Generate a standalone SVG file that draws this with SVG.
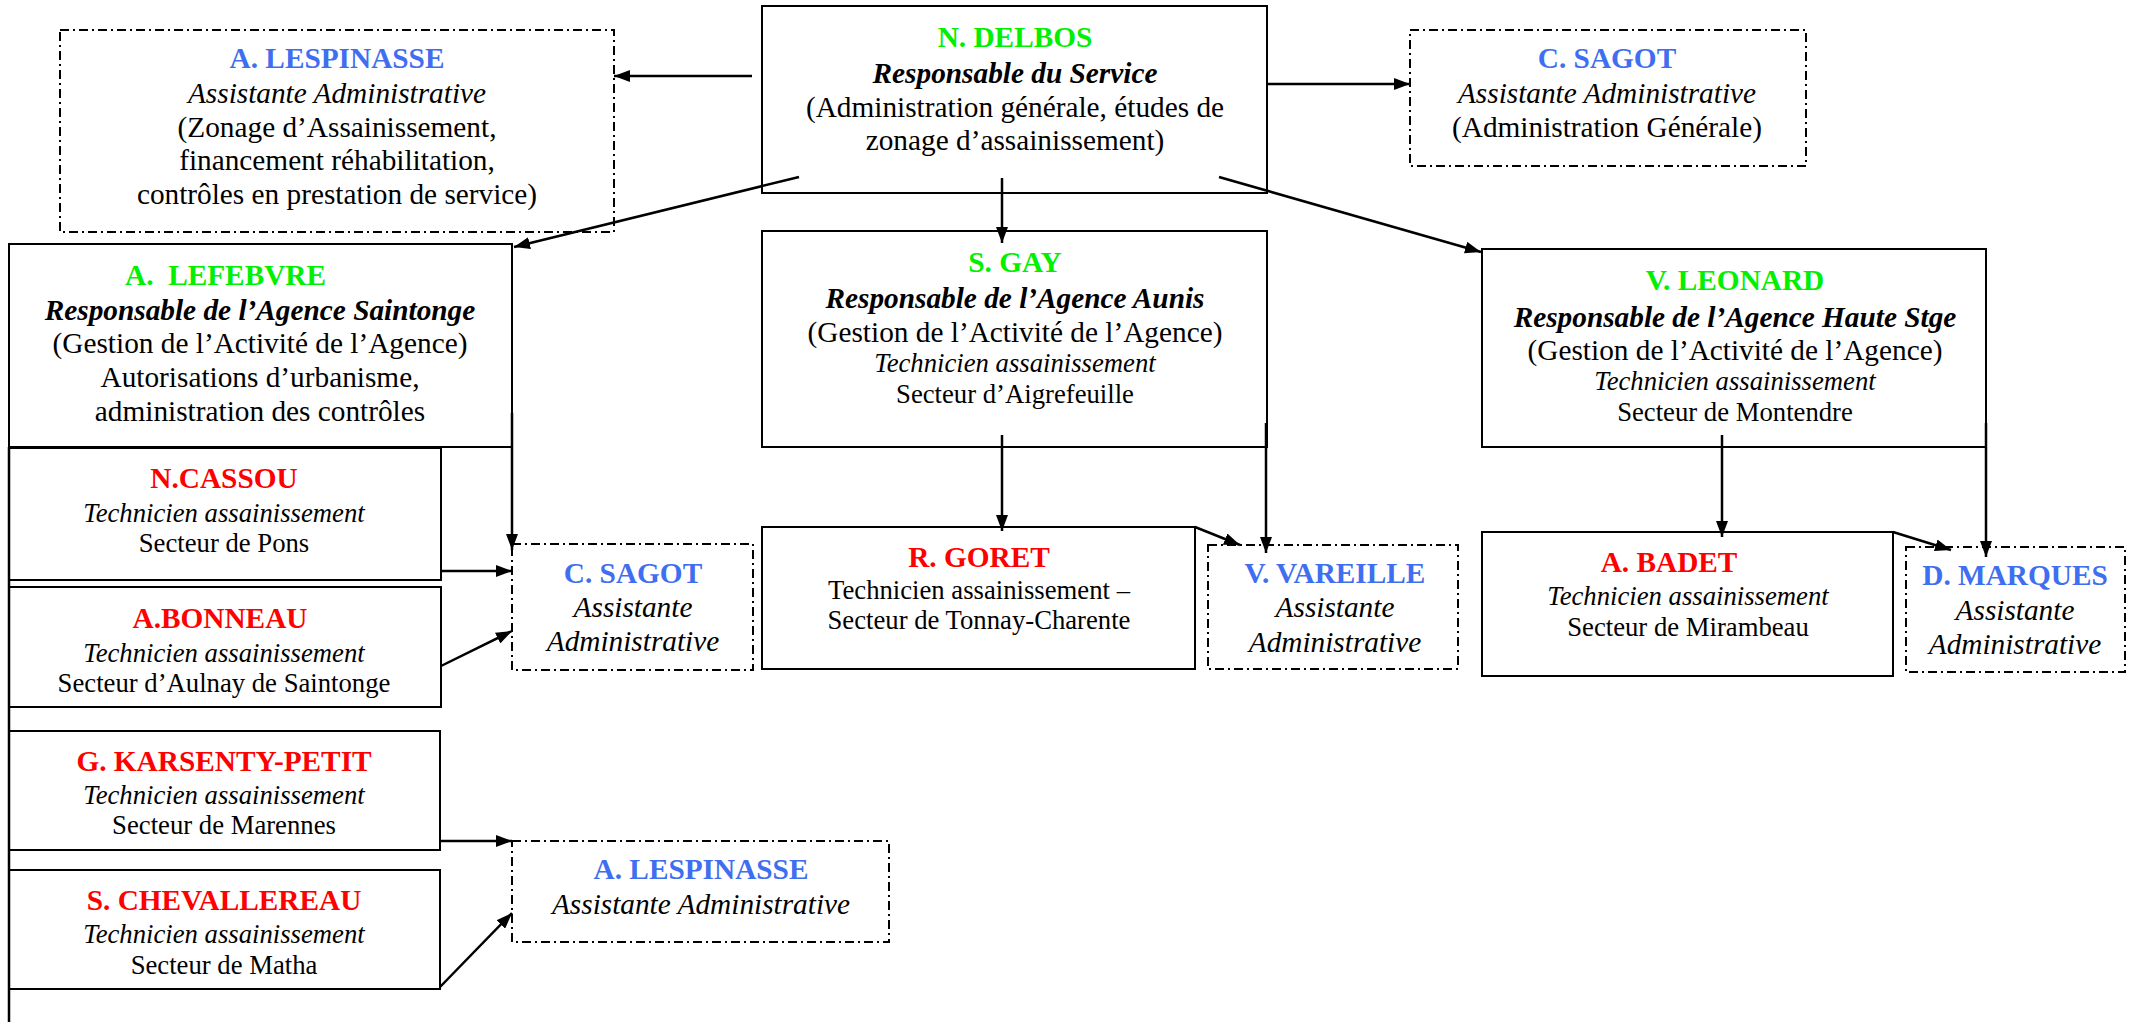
<svg xmlns="http://www.w3.org/2000/svg" width="2129" height="1022" viewBox="0 0 2129 1022">
<style>
text{font-family:"Liberation Serif","Times New Roman",serif;text-anchor:middle;fill:#000}
.box{fill:#fff;stroke:#000;stroke-width:2}
.dbox{fill:#fff;stroke:#000;stroke-width:2;stroke-dasharray:9 4 2 4}
.n{font-size:29.3px;font-weight:bold}
.g{fill:#00f000}
.b{fill:#3f6ff0}
.r{fill:#ff0000}
.ri{font-size:29.3px;font-weight:bold;font-style:italic}
.t{font-size:29.3px}
.ti{font-size:29.3px;font-style:italic}
.s{font-size:26.7px}
.si{font-size:26.7px;font-style:italic}
.c{stroke:#000;stroke-width:2.5;fill:none}
.a{marker-end:url(#ah)}
</style>
<defs>
<marker id="ah" markerUnits="userSpaceOnUse" markerWidth="16" markerHeight="12" refX="16" refY="6" orient="auto">
<path d="M0,0 L16,6 L0,12 z" fill="#000"/>
</marker>
</defs>
<rect width="2129" height="1022" fill="#fff"/>

<g id="delbos">
<rect class="box" x="762" y="6" width="505" height="187"/>
<text class="n g" x="1015" y="47">N. DELBOS</text>
<text class="ri" x="1015" y="83">Responsable du Service</text>
<text class="t" x="1015" y="117">(Administration générale, études de</text>
<text class="t" x="1015" y="150">zonage d’assainissement)</text>
</g>

<g id="lespinasse-top">
<rect class="dbox" x="60" y="30" width="554" height="202"/>
<text class="n b" x="337" y="68">A. LESPINASSE</text>
<text class="ti" x="337" y="103">Assistante Administrative</text>
<text class="t" x="337" y="137">(Zonage d’Assainissement,</text>
<text class="t" x="337" y="170">financement réhabilitation,</text>
<text class="t" x="337" y="204">contrôles en prestation de service)</text>
</g>

<g id="sagot-top">
<rect class="dbox" x="1410" y="30" width="396" height="136"/>
<text class="n b" x="1607" y="68">C. SAGOT</text>
<text class="ti" x="1607" y="103">Assistante Administrative</text>
<text class="t" x="1607" y="137">(Administration Générale)</text>
</g>

<g id="lefebvre">
<rect class="box" x="9" y="244" width="503" height="203"/>
<text class="n g" x="125" y="285" style="text-anchor:start;white-space:pre" xml:space="preserve">A.  LEFEBVRE</text>
<text class="ri" x="260" y="320">Responsable de l’Agence Saintonge</text>
<text class="t" x="260" y="353">(Gestion de l’Activité de l’Agence)</text>
<text class="t" x="260" y="387">Autorisations d’urbanisme,</text>
<text class="t" x="260" y="421">administration des contrôles</text>
</g>

<g id="gay">
<rect class="box" x="762" y="231" width="505" height="216"/>
<text class="n g" x="1015" y="272">S. GAY</text>
<text class="ri" x="1015" y="308">Responsable de l’Agence Aunis</text>
<text class="t" x="1015" y="342">(Gestion de l’Activité de l’Agence)</text>
<text class="si" x="1015" y="372">Technicien assainissement</text>
<text class="s" x="1015" y="403">Secteur d’Aigrefeuille</text>
</g>

<g id="leonard">
<rect class="box" x="1482" y="249" width="504" height="198"/>
<text class="n g" x="1735" y="290">V. LEONARD</text>
<text class="ri" x="1735" y="327">Responsable de l’Agence Haute Stge</text>
<text class="t" x="1735" y="360">(Gestion de l’Activité de l’Agence)</text>
<text class="si" x="1735" y="390">Technicien assainissement</text>
<text class="s" x="1735" y="421">Secteur de Montendre</text>
</g>

<g id="cassou">
<rect class="box" x="9" y="448" width="432" height="132"/>
<text class="n r" x="224" y="488">N.CASSOU</text>
<text class="si" x="224" y="522">Technicien assainissement</text>
<text class="s" x="224" y="552">Secteur de Pons</text>
</g>

<g id="bonneau">
<rect class="box" x="9" y="587" width="432" height="120"/>
<text class="n r" x="220" y="628">A.BONNEAU</text>
<text class="si" x="224" y="662">Technicien assainissement</text>
<text class="s" x="224" y="692">Secteur d’Aulnay de Saintonge</text>
</g>

<g id="karsenty">
<rect class="box" x="9" y="731" width="431" height="119"/>
<text class="n r" x="224" y="771">G. KARSENTY-PETIT</text>
<text class="si" x="224" y="804">Technicien assainissement</text>
<text class="s" x="224" y="834">Secteur de Marennes</text>
</g>

<g id="chevallereau">
<rect class="box" x="9" y="870" width="431" height="119"/>
<text class="n r" x="224" y="910">S. CHEVALLEREAU</text>
<text class="si" x="224" y="943">Technicien assainissement</text>
<text class="s" x="224" y="974">Secteur de Matha</text>
</g>

<g id="sagot-small">
<rect class="dbox" x="512" y="544" width="241" height="126"/>
<text class="n b" x="633" y="583">C. SAGOT</text>
<text class="ti" x="633" y="617">Assistante</text>
<text class="ti" x="633" y="651">Administrative</text>
</g>

<g id="lespinasse-small">
<rect class="dbox" x="512" y="841" width="377" height="101"/>
<text class="n b" x="701" y="879">A. LESPINASSE</text>
<text class="ti" x="701" y="914">Assistante Administrative</text>
</g>

<g id="goret">
<rect class="box" x="762" y="527" width="433" height="142"/>
<text class="n r" x="979" y="567">R. GORET</text>
<text class="s" x="979" y="599">Technicien assainissement –</text>
<text class="s" x="979" y="629">Secteur de Tonnay-Charente</text>
</g>

<g id="vareille">
<rect class="dbox" x="1208" y="545" width="250" height="124"/>
<text class="n b" x="1335" y="583">V. VAREILLE</text>
<text class="ti" x="1335" y="617">Assistante</text>
<text class="ti" x="1335" y="652">Administrative</text>
</g>

<g id="badet">
<rect class="box" x="1482" y="532" width="411" height="144"/>
<text class="n r" x="1669" y="572">A. BADET</text>
<text class="si" x="1688" y="605">Technicien assainissement</text>
<text class="s" x="1688" y="636">Secteur de Mirambeau</text>
</g>

<g id="marques">
<rect class="dbox" x="1906" y="547" width="219" height="125"/>
<text class="n b" x="2015" y="585">D. MARQUES</text>
<text class="ti" x="2015" y="620">Assistante</text>
<text class="ti" x="2015" y="654">Administrative</text>
</g>

<g id="connectors">
<line class="c a" x1="752" y1="76" x2="614" y2="76"/>
<line class="c a" x1="1267" y1="84" x2="1410" y2="84"/>
<line class="c a" x1="799" y1="177" x2="514" y2="247"/>
<line class="c a" x1="1002" y1="178" x2="1002" y2="243"/>
<line class="c a" x1="1219" y1="177" x2="1481" y2="252"/>
<line class="c a" x1="512" y1="413" x2="512" y2="550"/>
<line class="c a" x1="441" y1="571" x2="512" y2="571"/>
<line class="c a" x1="441" y1="666" x2="512" y2="631"/>
<line class="c a" x1="440" y1="841" x2="512" y2="841"/>
<line class="c a" x1="440" y1="987" x2="512" y2="913"/>
<line class="c a" x1="1002" y1="435" x2="1002" y2="531"/>
<line class="c a" x1="1266" y1="423" x2="1266" y2="553"/>
<line class="c a" x1="1195" y1="527" x2="1240" y2="545"/>
<line class="c a" x1="1722" y1="435" x2="1722" y2="537"/>
<line class="c a" x1="1986" y1="423" x2="1986" y2="557"/>
<line class="c a" x1="1893" y1="532" x2="1951" y2="550"/>
<line class="c" x1="9" y1="447" x2="9" y2="1022"/>
</g>
</svg>
